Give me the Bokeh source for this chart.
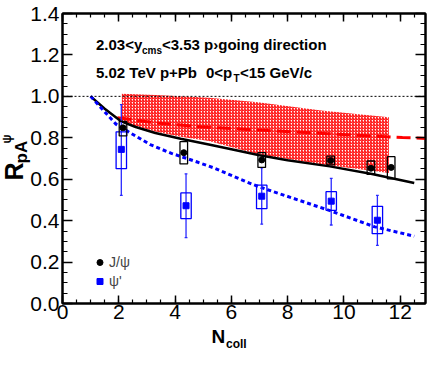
import numpy as np
from bokeh.plotting import figure
from bokeh.models import (LinearAxis, FixedTicker, PrintfTickFormatter, Label, Title,
                          Legend, LegendItem, Span)
from bokeh.embed import file_html
from bokeh.resources import INLINE

# ---------------- data ----------------
ncoll_jpsi = [2.15, 4.31, 7.08, 9.53, 10.96, 11.68]
rpa_jpsi = [0.848, 0.728, 0.693, 0.690, 0.653, 0.657]
jpsi_sys_lo = [0.809, 0.674, 0.657, 0.669, 0.623, 0.602]
jpsi_sys_hi = [0.879, 0.781, 0.728, 0.711, 0.688, 0.709]

ncoll_psi2s = [2.09, 4.39, 7.08, 9.55, 11.19]
rpa_psi2s = [0.744, 0.472, 0.518, 0.494, 0.402]
psi2s_sys_lo = [0.651, 0.410, 0.458, 0.450, 0.337]
psi2s_sys_hi = [0.829, 0.534, 0.571, 0.540, 0.469]
psi2s_stat_lo = [0.522, 0.318, 0.383, 0.379, 0.281]
psi2s_stat_hi = [0.960, 0.626, 0.655, 0.604, 0.522]

# theory curves
black_x = [1.0, 1.5, 2.09, 2.6, 3.3, 4.2, 5.2, 6.0, 7.0, 8.0, 9.5, 11.0, 12.5]
black_y = [1.0, 0.94, 0.879, 0.852, 0.823, 0.795, 0.768, 0.745, 0.716, 0.692, 0.662, 0.625, 0.582]

red_x = [1.95, 3.3, 4.9, 7.0, 9.4, 12.08, 12.9]
red_y = [0.897, 0.872, 0.853, 0.837, 0.820, 0.801, 0.797]

blue_x = [1.0, 1.4, 1.9, 2.38, 3.12, 3.87, 4.79, 5.37, 6.74, 7.32, 9.53, 11.1, 12.5]
blue_y = [1.0, 0.94, 0.866, 0.826, 0.767, 0.725, 0.683, 0.655, 0.576, 0.548, 0.447, 0.370, 0.325]

band_x = [2.11, 3.3, 4.2, 5.2, 6.95, 9.2, 11.6]
band_lo = [0.875, 0.83, 0.805, 0.785, 0.72, 0.672, 0.63]
band_hi = [1.012, 1.006, 1.0, 0.993, 0.972, 0.932, 0.899]

x_ticks = [0, 2, 4, 6, 8, 10, 12]
y_ticks = [0.0, 0.2, 0.4, 0.6, 0.8, 1.0, 1.2, 1.4]
x_minor = [round(0.5 * i, 2) for i in range(0, 26)]
y_minor = [round(0.05 * i, 3) for i in range(0, 29)]

JPSI_BOX_W = 0.27
PSI_BOX_W = 0.37

FONT = "Liberation Sans"

p = figure(width=427, height=353, x_range=(0, 12.9), y_range=(0, 1.4),
           output_backend="svg", toolbar_location=None,
           min_border_left=62, min_border_right=2, min_border_top=13, min_border_bottom=50)
p.xgrid.visible = False
p.ygrid.visible = False
p.outline_line_color = "black"
p.outline_line_width = 2
p.background_fill_color = "white"
p.border_fill_color = "white"

# axes styling
xax = p.xaxis[0]
yax = p.yaxis[0]
xax.ticker = FixedTicker(ticks=x_ticks, minor_ticks=x_minor)
yax.ticker = FixedTicker(ticks=y_ticks, minor_ticks=y_minor)
yax.formatter = PrintfTickFormatter(format="%.1f")
for ax, tin, min_in in ((xax, 8, 4), (yax, 10, 5)):
    ax.axis_line_width = 2
    ax.axis_line_color = "black"
    ax.major_tick_in = tin
    ax.major_tick_out = 0
    ax.minor_tick_in = min_in
    ax.minor_tick_out = 0
    ax.major_tick_line_width = 1.5
    ax.minor_tick_line_width = 1.2
    ax.major_label_text_font = FONT
    ax.major_label_text_font_size = "21px"
    ax.major_label_text_color = "black"
xax.major_label_standoff = 1
yax.major_label_standoff = 3

top = LinearAxis(ticker=FixedTicker(ticks=x_ticks, minor_ticks=x_minor),
                 major_tick_in=8, major_tick_out=0, minor_tick_in=4, minor_tick_out=0,
                 major_label_text_font_size="0px", major_label_standoff=0,
                 axis_line_width=2, major_tick_line_width=1.5, minor_tick_line_width=1.2)
right = LinearAxis(ticker=FixedTicker(ticks=y_ticks, minor_ticks=y_minor),
                   major_tick_in=10, major_tick_out=0, minor_tick_in=5, minor_tick_out=0,
                   major_label_text_font_size="0px", major_label_standoff=0,
                   axis_line_width=2, major_tick_line_width=1.5, minor_tick_line_width=1.2)
p.add_layout(top, "above")
p.add_layout(right, "right")

# reference line at 1
p.add_layout(Span(location=1.0, dimension="width", line_color="black",
                  line_dash="2 2", line_width=1))

# hatched band
p.varea(x=band_x, y1=band_lo, y2=band_hi, fill_alpha=0.0, hatch_pattern="/",
        hatch_color="#ff0000", hatch_scale=3, hatch_weight=1.1, hatch_alpha=1.0)

# curves
p.line(red_x, red_y, line_color="#ff0000", line_width=3, line_dash="14 6")
p.line(black_x, black_y, line_color="black", line_width=2.5)
p.line(blue_x, blue_y, line_color="#0000ff", line_width=3, line_dash="4 3")

# psi' stat errors
p.segment(x0=ncoll_psi2s, y0=psi2s_stat_lo, x1=ncoll_psi2s, y1=psi2s_stat_hi,
          line_color="#2a2aff", line_width=1.3)
cap = 0.05
p.segment(x0=[x - cap for x in ncoll_psi2s], y0=psi2s_stat_lo,
          x1=[x + cap for x in ncoll_psi2s], y1=psi2s_stat_lo, line_color="#2a2aff", line_width=1.3)
p.segment(x0=[x - cap for x in ncoll_psi2s], y0=psi2s_stat_hi,
          x1=[x + cap for x in ncoll_psi2s], y1=psi2s_stat_hi, line_color="#2a2aff", line_width=1.3)

# systematic boxes
p.quad(left=[x - PSI_BOX_W / 2 for x in ncoll_psi2s], right=[x + PSI_BOX_W / 2 for x in ncoll_psi2s],
       bottom=psi2s_sys_lo, top=psi2s_sys_hi, fill_alpha=0, line_color="#0000ff", line_width=1.3)
p.quad(left=[x - JPSI_BOX_W / 2 for x in ncoll_jpsi], right=[x + JPSI_BOX_W / 2 for x in ncoll_jpsi],
       bottom=jpsi_sys_lo, top=jpsi_sys_hi, fill_alpha=0, line_color="black", line_width=1.3)

r_jpsi = p.scatter(ncoll_jpsi, rpa_jpsi, marker="circle", size=6, fill_color="black", line_color="black")
r_psi = p.scatter(ncoll_psi2s, rpa_psi2s, marker="square", size=6, fill_color="#0000ff", line_color="#0000ff")

legend = Legend(items=[LegendItem(label="J/ψ", renderers=[r_jpsi]),
                       LegendItem(label="ψ'", renderers=[r_psi])],
                location=(30, 14), padding=0, margin=0, spacing=3,
                glyph_width=15, glyph_height=16, label_height=16, label_standoff=2,
                border_line_alpha=0, background_fill_alpha=0,
                label_text_font=FONT, label_text_font_size="14px")
p.add_layout(legend, "center")

# annotation text inside the frame
def lab(text, x, y, size, xo=0, yo=0):
    p.add_layout(Label(x=x, y=y, x_units="data", y_units="data", text=text,
                       x_offset=xo, y_offset=yo,
                       text_font=FONT, text_font_size=f"{size}px", text_font_style="bold",
                       text_color="black", text_align="left", text_baseline="alphabetic"))

lab("2.03<y", 1.19, 1.2515, 15)
lab("cms", 1.19, 1.2515, 10, xo=46, yo=-6)
lab("<3.53 p›going direction", 1.19, 1.2515, 15, xo=66)
lab("5.02 TeV p+Pb", 1.19, 1.1146, 15)
lab("0<p", 1.19, 1.1146, 15, xo=110)
lab("T", 1.19, 1.1146, 10, xo=137.5, yo=-6)
lab("<15 GeV/c", 1.19, 1.1146, 15, xo=144)

# axis titles: side-panel titles (pieces for sub/superscripts)
def side_title(text, size, place, offset, standoff):
    p.add_layout(Title(text=text, text_font=FONT, text_font_size=f"{size}px",
                       text_font_style="bold", text_color="black",
                       align="left", vertical_align="middle",
                       offset=offset, standoff=standoff), place)

side_title("pA", 17, "left", 140, -8)
side_title("R", 25, "left", 123, -29)
side_title("ψ", 12, "left", 160, -3)
side_title(" ", 10, "below", 0, -4)          # spacer
side_title("N", 19, "below", 149, -11)
side_title("coll", 12, "below", 163.5, -14)

open("out.html", "w").write(file_html(p, INLINE))
